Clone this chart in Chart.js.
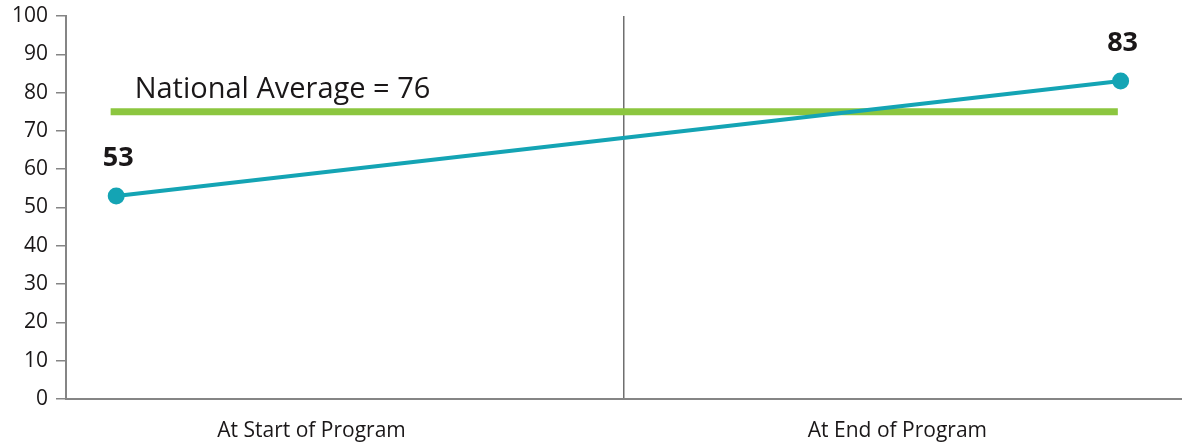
<!DOCTYPE html>
<html>
<head>
<meta charset="utf-8">
<script src="https://cdn.jsdelivr.net/npm/chart.js@4"></script>
<style>
  html, body { margin: 0; padding: 0; background: #ffffff; overflow: hidden; width: 1182px; height: 443px; }
  #wrap { width: 1182px; height: 443px; position: relative; overflow: hidden; }
  #c { display: block; }
</style>
</head>
<body>
<div id="wrap"><canvas id="c"></canvas></div>
<script>
// ---- data ----
const categories = ['At Start of Program', 'At End of Program'];
const timePoints = [0.09, 1.89];          // position along the program (0..2)
const scoreValues = [53, 83];
const averageSpan = [0.08, 1.885];
const nationalAverageLevel = 75;
const nationalAverageLabel = 'National Average = 76';
const categoryTickValues = [0.44, 1, 1.49];
const yTicks = [0,10,20,30,40,50,60,70,80,90,100];

const TEXT = '#1a1718';
const AXIS = '#858585';
const TEAL = '#14a4b4';
const GREEN = '#8cc63f';
const FONT = "'Open Sans', sans-serif";

const annotations = {
  id: 'annotations',
  afterDatasetsDraw(chart) {
    const {ctx, scales: {x, y}} = chart;
    ctx.save();
    ctx.fillStyle = TEXT;
    ctx.font = "29px " + FONT;
    ctx.textAlign = 'left';
    ctx.textBaseline = 'alphabetic';
    ctx.fillText(nationalAverageLabel, x.getPixelForValue(averageSpan[0]) + 24, y.getPixelForValue(nationalAverageLevel) - 14);
    ctx.font = "bold 27px " + FONT;
    ctx.textAlign = 'center';
    scoreValues.forEach((v, i) => {
      ctx.fillText(String(v), x.getPixelForValue(timePoints[i]) + 2, y.getPixelForValue(v) - 30);
    });
    ctx.restore();
  }
};

new Chart(document.getElementById('c'), {
  type: 'line',
  data: {
    datasets: [
      {
        label: 'Score',
        data: timePoints.map((t, i) => ({x: t, y: scoreValues[i]})),
        borderColor: TEAL,
        backgroundColor: TEAL,
        borderWidth: 4,
        pointRadius: 8.5,
        pointHoverRadius: 8.5,
        pointBackgroundColor: TEAL,
        pointBorderWidth: 0,
        tension: 0
      },
      {
        label: 'National Average',
        data: averageSpan.map(t => ({x: t, y: nationalAverageLevel})),
        borderColor: GREEN,
        borderWidth: 7,
        borderCapStyle: 'butt',
        pointRadius: 0,
        tension: 0
      }
    ]
  },
  options: {
    responsive: true,
    maintainAspectRatio: false,
    animation: false,
    events: [],
    layout: { autoPadding: false, padding: { top: 16, right: 0, left: 0, bottom: 0 } },
    plugins: { legend: { display: false }, tooltip: { enabled: false } },
    scales: {
      x: {
        type: 'linear',
        min: 0,
        max: 2,
        afterBuildTicks(scale) {
          scale.ticks = categoryTickValues.map(v => ({value: v}));
        },
        afterFit(scale) { scale.height = 44; },
        ticks: {
          autoSkip: false,
          maxRotation: 0,
          padding: 19,
          color: TEXT,
          font: { family: FONT, size: 21 },
          callback(value) {
            if (value === categoryTickValues[0]) return categories[0];
            if (value === categoryTickValues[2]) return categories[1];
            return '';
          }
        },
        grid: {
          drawTicks: false,
          color: ctx => (ctx.tick && ctx.tick.value === 1) ? '#6f6f6f' : 'rgba(0,0,0,0)',
          lineWidth: 1.5
        },
        border: { display: true, color: AXIS, width: 2 }
      },
      y: {
        min: 0,
        max: 100,
        afterBuildTicks(scale) {
          scale.ticks = yTicks.map(v => ({value: v}));
        },
        afterFit(scale) { scale.width = 66; },
        ticks: {
          padding: 8,
          color: TEXT,
          font: { family: FONT, size: 21, lineHeight: 0.7 }
        },
        grid: {
          drawOnChartArea: false,
          drawTicks: true,
          tickLength: 10,
          color: AXIS,
          lineWidth: 1.5
        },
        border: { display: true, color: AXIS, width: 2 }
      }
    }
  },
  plugins: [annotations]
});
</script>
</body>
</html>
